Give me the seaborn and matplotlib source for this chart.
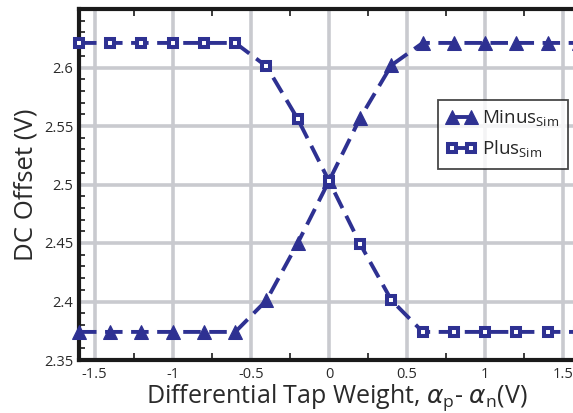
import numpy as np
import pandas as pd
import matplotlib
matplotlib.use("Agg")
import matplotlib.pyplot as plt
import seaborn as sns
from matplotlib.ticker import MultipleLocator

# Differential tap weight sweep (V)
tap_weight = [-1.6, -1.4, -1.2, -1.0, -0.8, -0.6, -0.4, -0.2, 0.0,
              0.2, 0.4, 0.6, 0.8, 1.0, 1.2, 1.4, 1.6]
# Simulated DC offset for each output (V)
minus_sim = [2.374, 2.374, 2.374, 2.374, 2.374, 2.374, 2.401, 2.450, 2.503,
             2.557, 2.602, 2.621, 2.621, 2.621, 2.621, 2.621, 2.621]
plus_sim = [2.621, 2.621, 2.621, 2.621, 2.621, 2.621, 2.601, 2.556, 2.503,
            2.449, 2.401, 2.374, 2.374, 2.374, 2.374, 2.374, 2.374]

x_ticks = [-1.5, -1, -0.5, 0, 0.5, 1, 1.5]
x_tick_labels = ["-1.5", "-1", "-0.5", "0", "0.5", "1", "1.5"]
y_ticks = [2.35, 2.4, 2.45, 2.5, 2.55, 2.6]
y_tick_labels = ["2.35", "2.4", "2.45", "2.5", "2.55", "2.6"]

df = pd.DataFrame({
    "w": tap_weight * 2,
    "dc": minus_sim + plus_sim,
    "series": ["Minus"] * len(tap_weight) + ["Plus"] * len(tap_weight),
})

sns.set_style("white")
plt.rcParams["font.family"] = ["Open Sans", "DejaVu Sans"]

blue = "#2e3192"
grid_col = "#c9cacf"
ink = "#1a1a1a"
text_col = "#2a2a2a"

fig = plt.figure(figsize=(5.73, 4.13), dpi=100)
# axes runs slightly past the right edge of the figure
ax = fig.add_axes([79 / 573, 1 - 360 / 413, (579 - 79) / 573, (360 - 9) / 413])

sns.lineplot(data=df[df.series == "Minus"], x="w", y="dc", ax=ax, color=blue,
             lw=2.8, linestyle=(0, (4.5, 2.2)), marker="^",
             markersize=9.5, markeredgecolor=blue, markerfacecolor=blue,
             label="Minus$_{\\mathregular{Sim}}$", clip_on=False, zorder=5)
sns.lineplot(data=df[df.series == "Plus"], x="w", y="dc", ax=ax, color=blue,
             lw=2.8, linestyle=(0, (4.5, 2.2)), marker="s",
             markersize=5.3, markeredgewidth=2.9, markeredgecolor=blue,
             markerfacecolor="white",
             label="Plus$_{\\mathregular{Sim}}$", clip_on=False, zorder=5)

ax.set_xlim(-1.6, 1.6)
ax.set_ylim(2.35, 2.65)
ax.set_xticks(x_ticks)
ax.set_xticklabels(x_tick_labels)
ax.set_yticks(y_ticks)
ax.set_yticklabels(y_tick_labels)
ax.xaxis.set_minor_locator(MultipleLocator(0.25))
ax.yaxis.set_minor_locator(MultipleLocator(0.01))

ax.grid(True, which="major", color=grid_col, lw=2.6)
ax.set_axisbelow(True)

for side in ["left", "bottom", "top"]:
    ax.spines[side].set_visible(True)
    ax.spines[side].set_color(ink)
    ax.spines[side].set_linewidth(3)
    ax.spines[side].set_zorder(3)
ax.spines["right"].set_visible(False)

ax.tick_params(axis="both", which="both", direction="in", colors=ink,
               labelcolor=text_col, labelsize=10.5)
ax.tick_params(axis="x", which="major", length=0, pad=5)
ax.tick_params(axis="x", which="minor", length=5, width=1.2, top=True, bottom=True)
ax.tick_params(axis="y", which="major", length=0, pad=4)
ax.tick_params(axis="y", which="minor", length=4, width=1.2, left=True)

ax.set_xlabel("Differential Tap Weight, $\\alpha_{\\mathregular{p}}$- $\\alpha_{\\mathregular{n}}$(V)",
              fontsize=18, color=text_col, labelpad=0)
ax.xaxis.label.set_x(0.516)
ax.set_ylabel("DC Offset (V)", fontsize=18.5, color=text_col, labelpad=4)

leg = ax.legend(loc="upper left", bbox_to_anchor=((438 - 79) / 500, 1 - (100 - 9) / 351),
                frameon=True, fancybox=False, fontsize=13.5, handlelength=1.6,
                handletextpad=0.3, borderpad=0.45, labelspacing=0.55,
                borderaxespad=0, numpoints=2)
leg.get_frame().set_edgecolor(ink)
leg.get_frame().set_linewidth(1.3)
leg.set_zorder(6)
for line in leg.get_lines():
    line.set_linestyle("-")

fig.savefig("out.png", dpi=100)
